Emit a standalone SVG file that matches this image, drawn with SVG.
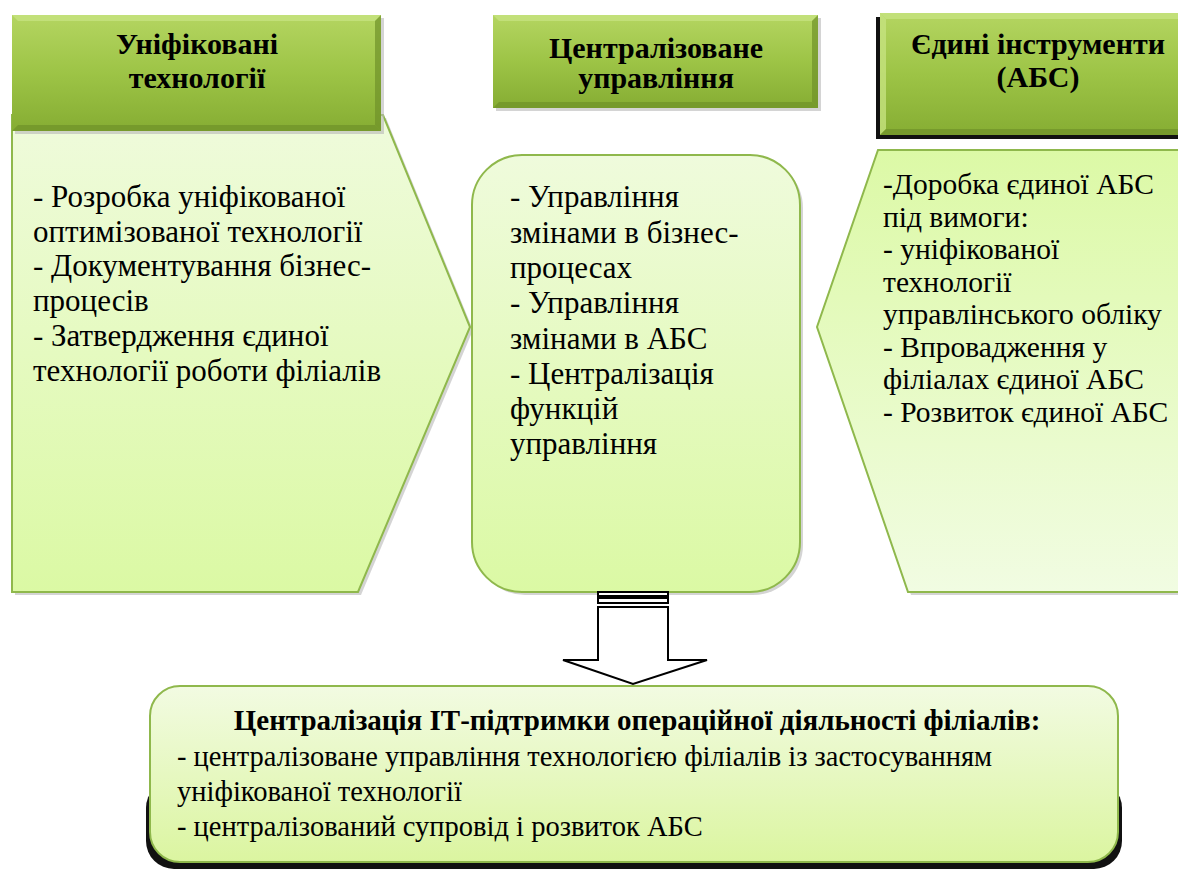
<svg xmlns="http://www.w3.org/2000/svg" width="1178" height="872" viewBox="0 0 1178 872">
<defs>
<linearGradient id="hdr" x1="0" y1="0" x2="0" y2="1">
<stop offset="0" stop-color="#b4d561"/>
<stop offset="0.5" stop-color="#9dc446"/>
<stop offset="1" stop-color="#86ad33"/>
</linearGradient>
<linearGradient id="bodyDown" x1="0" y1="0" x2="0" y2="1">
<stop offset="0" stop-color="#effbdc"/>
<stop offset="1" stop-color="#dbf9a4"/>
</linearGradient>
<linearGradient id="bodyUp" x1="0" y1="0" x2="0" y2="1">
<stop offset="0" stop-color="#dcf9a6"/>
<stop offset="1" stop-color="#f1fce2"/>
</linearGradient>
<linearGradient id="botFill" x1="0" y1="0" x2="0" y2="1">
<stop offset="0" stop-color="#f2fbe2"/>
<stop offset="1" stop-color="#dbf5a0"/>
</linearGradient>
</defs>

<g id="left-body">
<polygon fill="#b8b8b8" opacity="0.6" points="15,118 386,118 473,330 361,595 15,595"/>
<polygon stroke="#8fb84c" stroke-width="2" fill="url(#bodyDown)" points="12,115 383,115 470,327 358,592 12,592"/>
<text x="33" y="207" font-family="Liberation Serif" font-size="31">- Розробка уніфікованої</text>
<text x="33" y="242" font-family="Liberation Serif" font-size="31">оптимізованої технології</text>
<text x="33" y="276" font-family="Liberation Serif" font-size="31">- Документування бізнес-</text>
<text x="33" y="311" font-family="Liberation Serif" font-size="31">процесів</text>
<text x="33" y="346" font-family="Liberation Serif" font-size="31">- Затвердження єдиної</text>
<text x="33" y="381" font-family="Liberation Serif" font-size="31">технології роботи філіалів</text>
</g>

<g id="left-header">
<rect fill="#b8b8b8" opacity="0.6" x="15" y="18" width="369" height="116"/>
<rect fill="url(#hdr)" x="12" y="15" width="369" height="116"/>
<polygon fill="#c6e27f" opacity="0.8" points="12,15 381,15 375,21 18,21"/>
<polygon fill="#6f9129" opacity="0.7" points="12,131 381,131 375,125 18,125"/>
<polygon fill="#6f9129" opacity="0.7" points="381,15 381,131 375,125 375,21"/>
<text x="197" y="54" font-family="Liberation Serif" font-size="30" font-weight="bold" text-anchor="middle">Уніфіковані</text>
<text x="197" y="88" font-family="Liberation Serif" font-size="30" font-weight="bold" text-anchor="middle">технології</text>
</g>

<g id="center-body">
<rect fill="#b8b8b8" opacity="0.6" x="475" y="158" width="328" height="437" rx="50" ry="50"/>
<rect stroke="#8fb84c" stroke-width="2" fill="url(#bodyDown)" x="472" y="155" width="328" height="437" rx="50" ry="50"/>
<text x="510" y="207" font-family="Liberation Serif" font-size="31">- Управління</text>
<text x="510" y="243" font-family="Liberation Serif" font-size="31">змінами в бізнес-</text>
<text x="510" y="278" font-family="Liberation Serif" font-size="31">процесах</text>
<text x="510" y="313" font-family="Liberation Serif" font-size="31">- Управління</text>
<text x="510" y="349" font-family="Liberation Serif" font-size="31">змінами в АБС</text>
<text x="510" y="384" font-family="Liberation Serif" font-size="31">- Централізація</text>
<text x="510" y="419" font-family="Liberation Serif" font-size="31">функцій</text>
<text x="510" y="454" font-family="Liberation Serif" font-size="31">управління</text>
</g>

<g id="center-header">
<rect fill="#b8b8b8" opacity="0.6" x="496" y="18" width="325" height="93"/>
<rect fill="url(#hdr)" x="493" y="15" width="325" height="93"/>
<polygon fill="#c6e27f" opacity="0.8" points="493,15 818,15 812,21 499,21"/>
<polygon fill="#6f9129" opacity="0.7" points="493,108 818,108 812,102 499,102"/>
<polygon fill="#6f9129" opacity="0.7" points="818,15 818,108 812,102 812,21"/>
<text x="656" y="58" font-family="Liberation Serif" font-size="30" font-weight="bold" text-anchor="middle">Централізоване</text>
<text x="656" y="88" font-family="Liberation Serif" font-size="30" font-weight="bold" text-anchor="middle">управління</text>
</g>

<g id="right-body">
<polygon fill="#b8b8b8" opacity="0.6" points="881,153 1193,153 1193,595 911,595 820,330"/>
<polygon stroke="#8fb84c" stroke-width="2" fill="url(#bodyUp)" points="878,150 1190,150 1190,592 908,592 817,327"/>
<text x="883" y="194" font-family="Liberation Serif" font-size="29.5">-Доробка єдиної АБС</text>
<text x="883" y="227" font-family="Liberation Serif" font-size="29.5">під вимоги:</text>
<text x="883" y="259" font-family="Liberation Serif" font-size="29.5">- уніфікованої</text>
<text x="883" y="292" font-family="Liberation Serif" font-size="29.5">технології</text>
<text x="883" y="324" font-family="Liberation Serif" font-size="29.5">управлінського обліку</text>
<text x="883" y="357" font-family="Liberation Serif" font-size="29.5">- Впровадження у</text>
<text x="883" y="389" font-family="Liberation Serif" font-size="29.5">філіалах єдиної АБС</text>
<text x="883" y="422" font-family="Liberation Serif" font-size="29.5">- Розвиток єдиної АБС</text>
</g>

<g id="right-header">
<rect x="876" y="17" width="320" height="122" fill="#111"/>
<rect fill="url(#hdr)" x="880" y="13" width="310" height="122"/>
<polygon fill="#c6e27f" opacity="0.8" points="880,13 1190,13 1190,19 886,19"/>
<polygon fill="#c6e27f" opacity="0.8" points="880,13 886,19 886,129 880,135"/>
<polygon fill="#6f9129" opacity="0.7" points="880,135 1190,135 1190,129 886,129"/>
<text x="1038" y="54" font-family="Liberation Serif" font-size="30" font-weight="bold" text-anchor="middle">Єдині інструменти</text>
<text x="1038" y="87" font-family="Liberation Serif" font-size="30" font-weight="bold" text-anchor="middle">(АБС)</text>
</g>

<g id="connectors" fill="#fff" stroke="#000" stroke-width="2">
<rect x="598" y="592" width="70" height="4"/>
<rect x="598" y="598" width="70" height="5"/>
<polygon points="598,607 668,607 668,660 707,660 633,684 563,660 598,660"/>
</g>

<g id="bottom-box">
<rect x="146" y="780" width="976" height="89" rx="28" fill="#111"/>
<rect stroke="#8fb84c" stroke-width="2" fill="url(#botFill)" x="150" y="686" width="968" height="176" rx="30" ry="30"/>
<text x="637" y="730" font-family="Liberation Serif" font-size="29" font-weight="bold" text-anchor="middle">Централізація ІТ-підтримки операційної діяльності філіалів:</text>
<text x="177" y="766" font-family="Liberation Serif" font-size="28.5">- централізоване управління технологією філіалів  із застосуванням</text>
<text x="177" y="801" font-family="Liberation Serif" font-size="28.5">уніфікованої технології</text>
<text x="177" y="836" font-family="Liberation Serif" font-size="28.5">- централізований супровід і розвиток АБС</text>
</g>
</svg>
